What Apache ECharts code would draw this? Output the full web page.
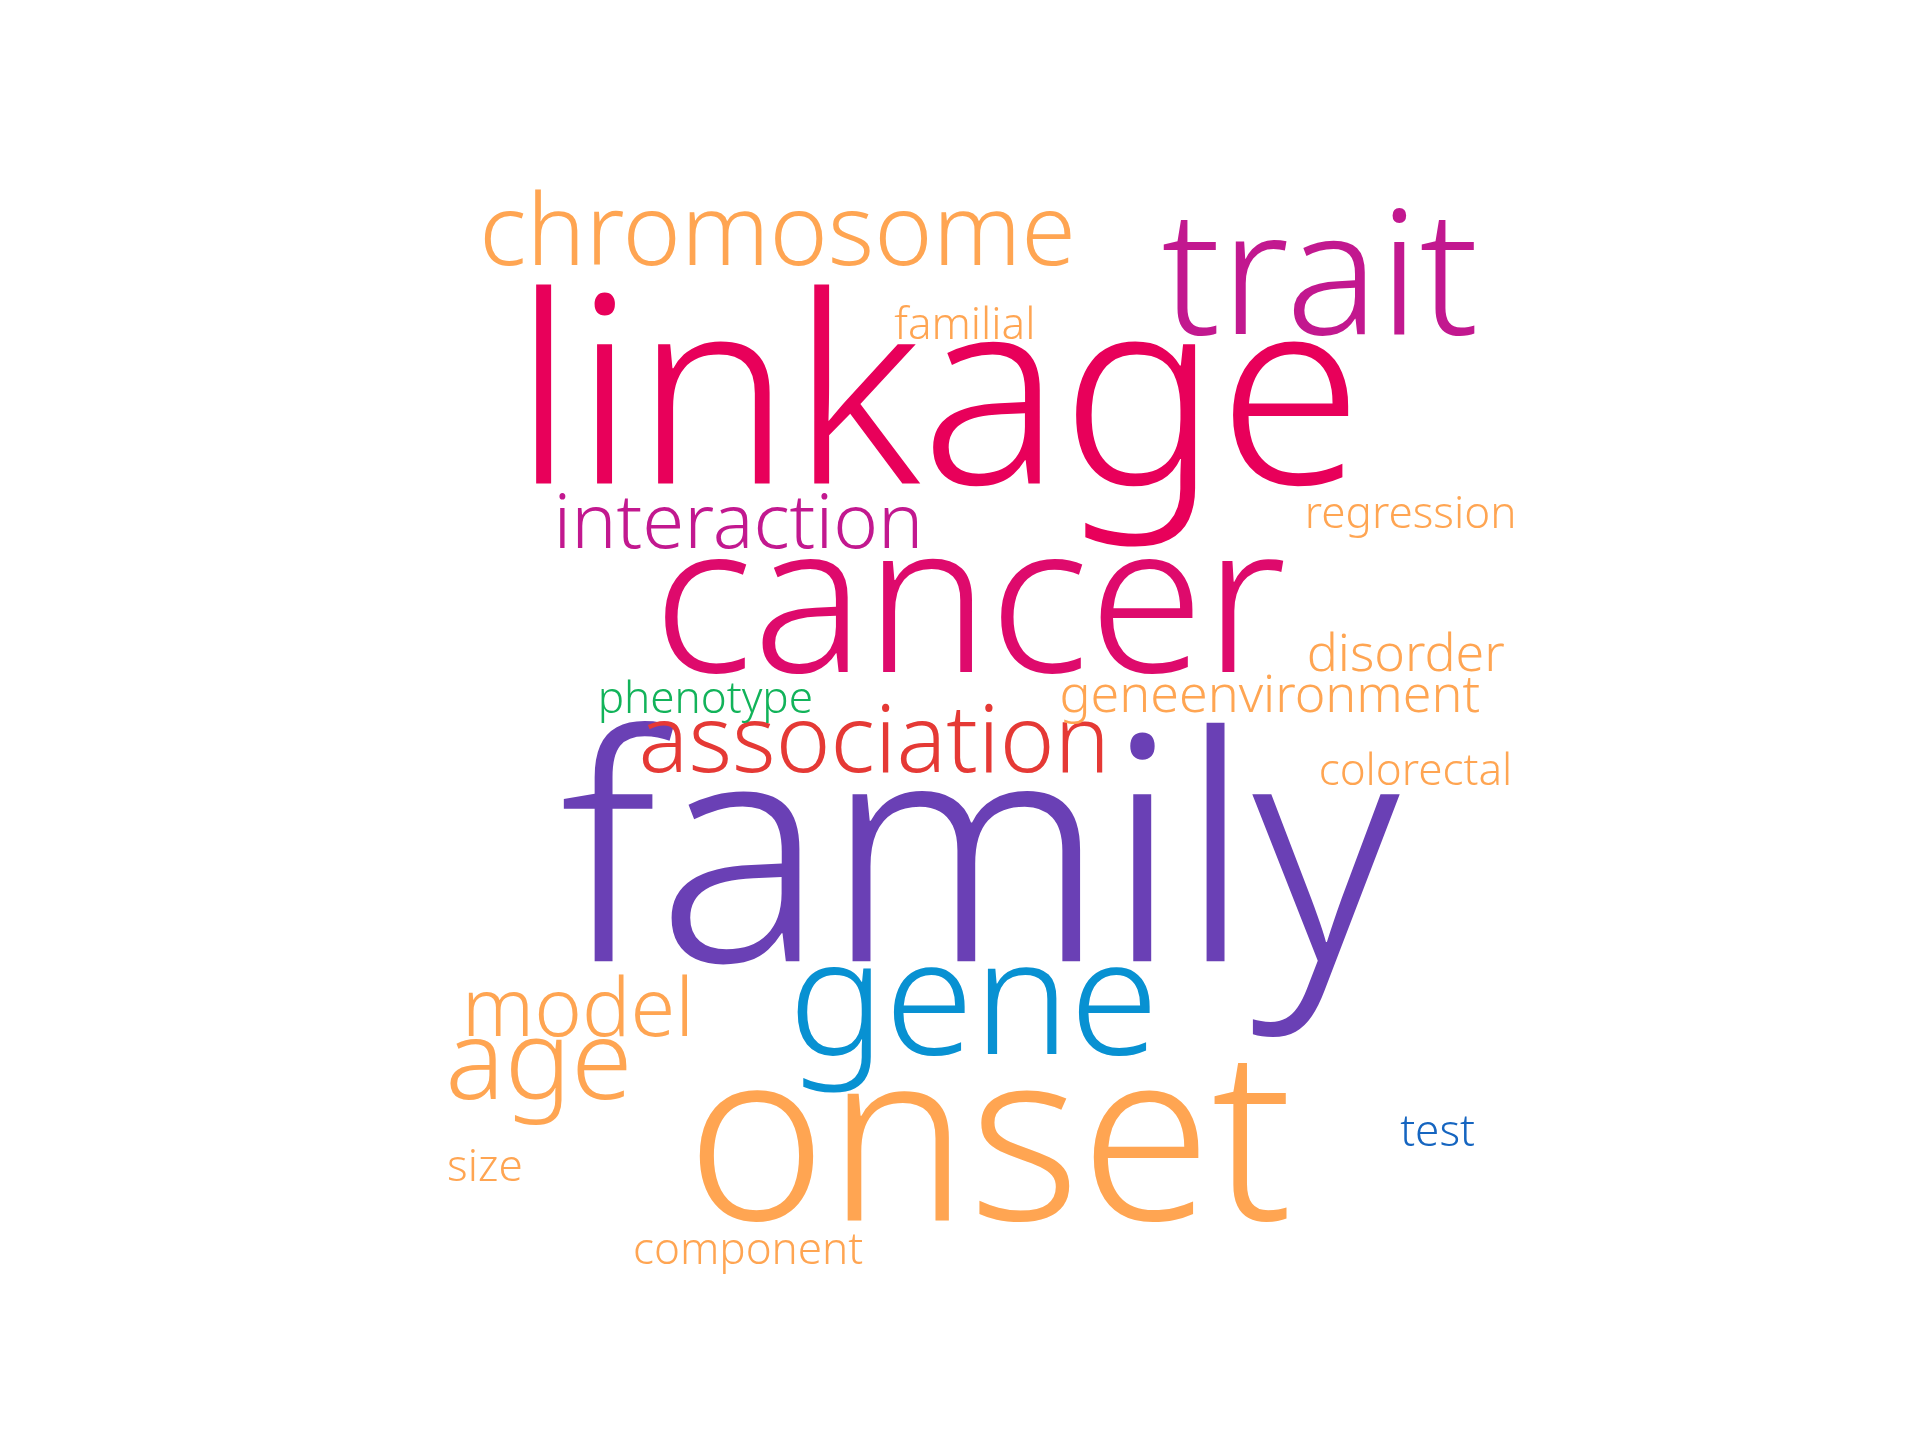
<!DOCTYPE html>
<html>
<head>
<meta charset="utf-8">
<script src="https://cdn.jsdelivr.net/npm/echarts@6/dist/echarts.min.js"></script>
<style>
html, body { margin: 0; padding: 0; background: #fff; }
#chart { width: 1920px; height: 1440px; }
</style>
</head>
<body>
<div id="chart"></div>
<script>
// word cloud: words, weights and their placement (layout units of a 1568 x 1176 board)
var words = ['family', 'linkage', 'onset', 'cancer', 'trait', 'gene', 'chromosome', 'association',
    'interaction', 'age', 'model', 'disorder', 'geneenvironment', 'regression', 'colorectal',
    'familial', 'phenotype', 'test', 'size', 'component'];
var weights = [270, 225, 205, 180, 150, 138, 85, 80, 65, 95, 70, 45, 45, 38, 38, 38, 38, 38, 38, 38];
var posX = [800, 766, 808, 792, 1078, 795, 635, 714, 603, 440, 472, 1148, 1037, 1152, 1156, 788, 576, 1174, 396, 611];
var posY = [712, 334, 941, 500, 232, 823, 193, 609, 430, 872, 827, 536, 569, 421, 631, 267, 572, 926, 954, 1022];
var colorIdx = [0, 1, 2, 3, 4, 5, 2, 6, 4, 2, 2, 2, 2, 2, 2, 2, 7, 8, 2, 2];

var palette = ['#6a40b5', '#e8005a', '#ffa552', '#de0a6c', '#c2188f', '#0891d2', '#e53935', '#12b35a', '#1565c0'];
var scale = 1920 / 1568;

function buildData() {
    var data = [];
    for (var i = 0; i < words.length; i++) {
        data.push({
            name: words[i],
            value: [posX[i], posY[i]],
            label: {
                fontSize: Math.round(weights[i] * scale * 0.95),
                color: palette[colorIdx[i]]
            }
        });
    }
    return data;
}

var chart = echarts.init(document.getElementById('chart'));
chart.setOption({
    backgroundColor: '#fff',
    animation: false,
    grid: { left: 0, right: 0, top: 0, bottom: 0 },
    xAxis: { type: 'value', min: 0, max: 1568, show: false },
    yAxis: { type: 'value', min: 0, max: 1176, inverse: true, show: false },
    series: [{
        type: 'scatter',
        symbolSize: 0,
        silent: true,
        itemStyle: { opacity: 1 },
        data: buildData(),
        label: {
            show: true,
            position: 'inside',
            formatter: '{b}',
            fontFamily: 'Noto Sans',
            fontWeight: 300,
            opacity: 1,
            align: 'center',
            verticalAlign: 'middle'
        }
    }]
});
</script>
</body>
</html>
